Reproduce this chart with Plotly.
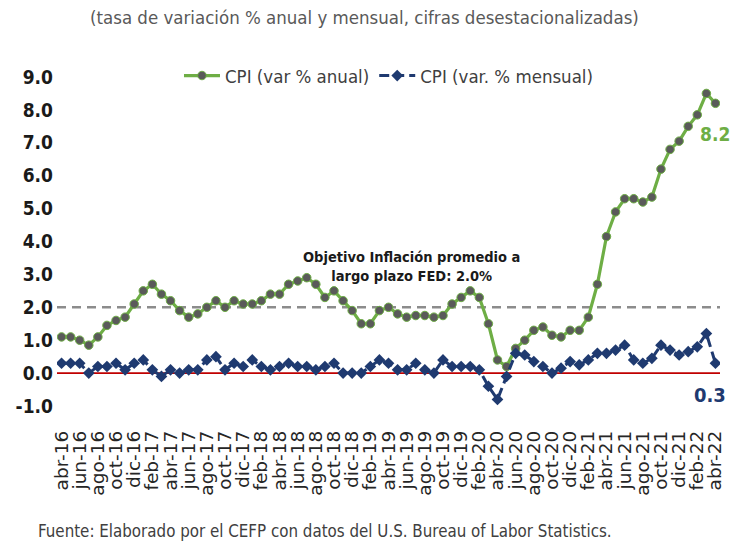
import plotly.graph_objects as go

months = [
    "abr-16", "may-16", "jun-16", "jul-16", "ago-16", "sep-16", "oct-16", "nov-16", "dic-16",
    "ene-17", "feb-17", "mar-17", "abr-17", "may-17", "jun-17", "jul-17", "ago-17", "sep-17", "oct-17", "nov-17", "dic-17",
    "ene-18", "feb-18", "mar-18", "abr-18", "may-18", "jun-18", "jul-18", "ago-18", "sep-18", "oct-18", "nov-18", "dic-18",
    "ene-19", "feb-19", "mar-19", "abr-19", "may-19", "jun-19", "jul-19", "ago-19", "sep-19", "oct-19", "nov-19", "dic-19",
    "ene-20", "feb-20", "mar-20", "abr-20", "may-20", "jun-20", "jul-20", "ago-20", "sep-20", "oct-20", "nov-20", "dic-20",
    "ene-21", "feb-21", "mar-21", "abr-21", "may-21", "jun-21", "jul-21", "ago-21", "sep-21", "oct-21", "nov-21", "dic-21",
    "ene-22", "feb-22", "mar-22", "abr-22",
]

cpi_anual = [
    1.1, 1.1, 1.0, 0.85, 1.1, 1.45, 1.6, 1.7, 2.1,
    2.5, 2.7, 2.4, 2.2, 1.9, 1.7, 1.8, 2.0, 2.2, 2.0, 2.2, 2.1,
    2.1, 2.2, 2.4, 2.4, 2.7, 2.8, 2.9, 2.7, 2.3, 2.5, 2.2, 1.9,
    1.5, 1.5, 1.9, 2.0, 1.8, 1.7, 1.75, 1.75, 1.7, 1.75, 2.1, 2.3,
    2.5, 2.3, 1.5, 0.4, 0.2, 0.75, 1.0, 1.3, 1.4, 1.15, 1.1, 1.3,
    1.3, 1.7, 2.7, 4.15, 4.9, 5.3, 5.3, 5.2, 5.35, 6.2, 6.8, 7.05,
    7.5, 7.85, 8.5, 8.2,
]

cpi_mensual = [
    0.3, 0.3, 0.3, 0.0, 0.2, 0.2, 0.3, 0.1, 0.3,
    0.4, 0.1, -0.1, 0.1, 0.0, 0.1, 0.1, 0.4, 0.5, 0.1, 0.3, 0.2,
    0.4, 0.2, 0.1, 0.2, 0.3, 0.2, 0.2, 0.1, 0.2, 0.3, 0.0, 0.0,
    0.0, 0.2, 0.4, 0.3, 0.1, 0.1, 0.3, 0.1, 0.0, 0.4, 0.2, 0.2,
    0.2, 0.1, -0.4, -0.8, -0.1, 0.6, 0.55, 0.35, 0.2, 0.0, 0.15, 0.35,
    0.25, 0.4, 0.6, 0.6, 0.7, 0.85, 0.4, 0.3, 0.45, 0.85, 0.7, 0.55,
    0.65, 0.8, 1.2, 0.3,
]

y_ticks = [-1.0, 0.0, 1.0, 2.0, 3.0, 4.0, 5.0, 6.0, 7.0, 8.0, 9.0]
objetivo_fed = 2.0

GREEN = "#6EAE45"
NAVY = "#1F3A70"
NARROW = "DejaVu Sans Condensed, Liberation Sans Narrow, Lato, sans-serif"

# The page body has an 8px margin, so the figure is drawn 8px right/down of the window.
OFF = 8
W, H = 741, 544
# target page pixels of the plot area
PL, PR, PT, PB = 57, 720, 77, 406
TOP = 32
M_L = PL - OFF
M_R = W - (PR - OFF)
M_B = H - (PB - OFF)
paper_h = H - TOP - M_B


def py(px):
    return (PB - px) / paper_h


fig = go.Figure()

fig.add_trace(go.Scatter(
    x=months, y=cpi_anual, mode="lines+markers", name="CPI (var % anual)",
    line=dict(color=GREEN, width=3.2),
    marker=dict(symbol="circle", size=8.5, color="#5A5A5A", line=dict(color=GREEN, width=1)),
))
fig.add_trace(go.Scatter(
    x=months, y=cpi_mensual, mode="lines+markers", name="CPI (var. % mensual)",
    line=dict(color=NAVY, width=3, dash="10px,5px"),
    marker=dict(symbol="diamond", size=9, color=NAVY),
))

fig.add_shape(type="line", xref="paper", x0=0, x1=1, yref="y", y0=objetivo_fed, y1=objetivo_fed,
              line=dict(color="#8C8C8C", width=2.5, dash="9px,6px"), layer="below")
fig.add_shape(type="line", xref="paper", x0=0, x1=1, yref="y", y0=0, y1=0,
              line=dict(color="#C00000", width=1.8), layer="below")

fig.add_annotation(text="(tasa de variación % anual y mensual, cifras desestacionalizadas)",
                   xref="paper", yref="paper", x=0.464, y=py(18), xanchor="center", yanchor="middle",
                   showarrow=False, font=dict(family=NARROW, size=18.5, color="#595959"))
fig.add_annotation(text="Fuente: Elaborado por el CEFP con datos del U.S. Bureau of Labor Statistics.",
                   xref="paper", yref="paper", x=-0.031, y=py(531), xanchor="left", yanchor="middle",
                   showarrow=False, font=dict(family=NARROW, size=16.8, color="#404040"))
fig.add_annotation(text="<b>Objetivo Inflación promedio a<br>largo plazo FED: 2.0%</b>",
                   xref="paper", yref="paper", x=0.534, y=py(266), xanchor="center", yanchor="middle",
                   showarrow=False, align="center",
                   font=dict(family=NARROW, size=14.5, color="#1A1A1A"))
fig.add_annotation(text="<b>%.1f</b>" % cpi_anual[-1], x=months[-1], y=cpi_anual[-1],
                   xanchor="center", yanchor="middle", yshift=-31, showarrow=False,
                   font=dict(family=NARROW, size=19, color=GREEN))
fig.add_annotation(text="<b>%.1f</b>" % cpi_mensual[-1], x=months[-1], y=cpi_mensual[-1],
                   xanchor="center", yanchor="middle", yshift=-32, xshift=-5, showarrow=False,
                   font=dict(family=NARROW, size=20, color=NAVY))

fig.update_layout(
    width=W, height=H,
    margin=dict(l=M_L, r=M_R, t=TOP, b=M_B, autoexpand=False),
    paper_bgcolor="white", plot_bgcolor="white",
    showlegend=True,
    legend=dict(orientation="h", x=0.184, y=py(76), xanchor="left", yanchor="middle",
                font=dict(family=NARROW, size=18.5, color="#404040"),
                bgcolor="rgba(0,0,0,0)", itemwidth=36, tracegroupgap=0),
    xaxis=dict(type="category", range=[-0.5, len(months) - 0.5], automargin=False,
               tickmode="array", tickvals=months[::2], ticktext=months[::2],
               tickangle=-90, showgrid=False, zeroline=False, showline=False, ticks="",
               ticklabelstandoff=20,
               tickfont=dict(family="DejaVu Sans, sans-serif", size=18.5, color="#262626")),
    yaxis=dict(range=[-1.0, 9.0], domain=[0, (PB - PT) / paper_h], automargin=False,
               tickmode="array", tickvals=y_ticks,
               ticktext=["<b>%.1f</b>" % v for v in y_ticks],
               showgrid=False, zeroline=False, showline=False, ticks="",
               ticklabelstandoff=3,
               tickfont=dict(family=NARROW, size=19, color="#1A1A1A")),
)

fig.write_html("out.html")
